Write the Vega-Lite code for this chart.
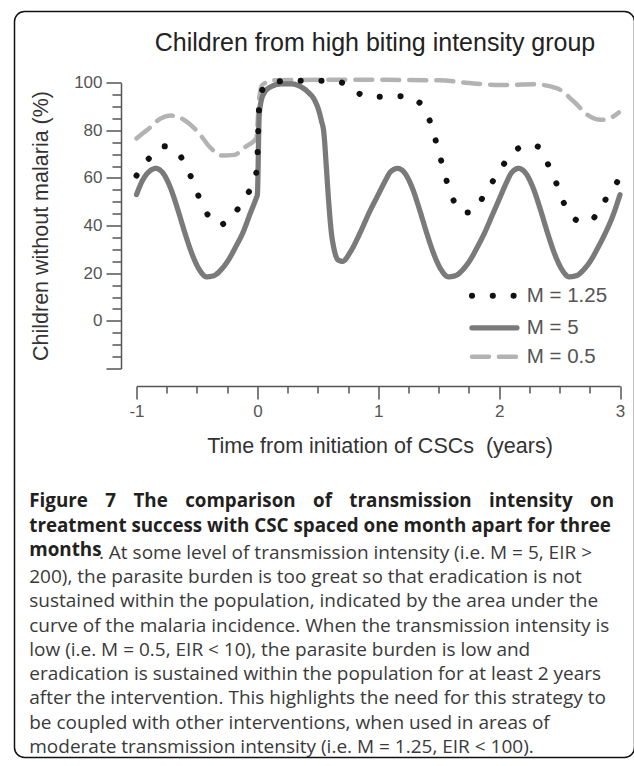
{
  "$schema": "https://vega.github.io/schema/vega-lite/v6.json",
  "background": "white",
  "padding": {"left": 13.5, "top": 10.5, "right": 0.5, "bottom": 9.5},
  "title": {
    "text": [
      "Figure\u2002\u2006 7\u2002\u2006 The\u2002\u2006 comparison\u2002\u2006 of\u2002\u2006 transmission\u2002\u2006 intensity\u2002\u2006 on",
      "treatment success with CSC spaced one month apart for three",
      "months"
    ],
    "subtitle": [
      "\u200b\u2003\u2003\u2003\u2002\u2006. At some level of transmission intensity (i.e. M = 5, EIR >",
      "200), the parasite burden is too great so that eradication is not",
      "sustained within the population, indicated by the area under the",
      "curve of the malaria incidence. When the transmission intensity is",
      "low (i.e. M = 0.5, EIR < 10), the parasite burden is low and",
      "eradication is sustained within the population for at least 2 years",
      "after the intervention. This highlights the need for this strategy to",
      "be coupled with other interventions, when used in areas of",
      "moderate transmission intensity (i.e. M = 1.25, EIR < 100)."
    ],
    "orient": "bottom",
    "anchor": "start",
    "frame": "bounds",
    "offset": -266,
    "dx": 15.5,
    "font": "Open Sans",
    "fontSize": 18.8,
    "fontWeight": "bold",
    "color": "#231f20",
    "lineHeight": 24.3,
    "subtitleFont": "Open Sans",
    "subtitleFontSize": 19,
    "subtitleFontWeight": "normal",
    "subtitleColor": "#3a3a3a",
    "subtitleLineHeight": 24.3,
    "subtitlePadding": -16
  },
  "vconcat": [
    {
      "width": 620,
      "height": 746,
      "view": {"stroke": "#111111", "strokeWidth": 1.5, "cornerRadius": 10, "fill": null},
      "title": {
        "text": "Children from high biting intensity group",
        "anchor": "middle",
        "frame": "group",
        "offset": -44,
        "dx": 50.5,
        "font": "Liberation Sans",
        "fontSize": 25,
        "fontWeight": "normal",
        "color": "#222222"
      },
      "data": {
        "values": [
          {"M": "M = 0.5", "t": -1.0, "pct": 76.6},
          {"M": "M = 0.5", "t": -0.91, "pct": 80.2},
          {"M": "M = 0.5", "t": -0.8, "pct": 85},
          {"M": "M = 0.5", "t": -0.716, "pct": 86.2},
          {"M": "M = 0.5", "t": -0.62, "pct": 84.8},
          {"M": "M = 0.5", "t": -0.495, "pct": 79.5},
          {"M": "M = 0.5", "t": -0.385, "pct": 72.5},
          {"M": "M = 0.5", "t": -0.29, "pct": 69.4},
          {"M": "M = 0.5", "t": -0.19, "pct": 69.7},
          {"M": "M = 0.5", "t": -0.095, "pct": 73.2},
          {"M": "M = 0.5", "t": -0.01, "pct": 76.6},
          {"M": "M = 0.5", "t": 0.015, "pct": 93.4},
          {"M": "M = 0.5", "t": 0.04, "pct": 99},
          {"M": "M = 0.5", "t": 0.14, "pct": 101},
          {"M": "M = 0.5", "t": 0.5, "pct": 101.2},
          {"M": "M = 0.5", "t": 1.0, "pct": 101.2},
          {"M": "M = 0.5", "t": 1.5, "pct": 101},
          {"M": "M = 0.5", "t": 1.79, "pct": 99.7},
          {"M": "M = 0.5", "t": 2.01, "pct": 99},
          {"M": "M = 0.5", "t": 2.29, "pct": 99.3},
          {"M": "M = 0.5", "t": 2.48, "pct": 97.6},
          {"M": "M = 0.5", "t": 2.62, "pct": 92},
          {"M": "M = 0.5", "t": 2.73, "pct": 86.5},
          {"M": "M = 0.5", "t": 2.84, "pct": 84.4},
          {"M": "M = 0.5", "t": 2.94, "pct": 85.7},
          {"M": "M = 0.5", "t": 2.99, "pct": 87.5},

          {"M": "M = 5", "t": -1.0, "pct": 53},
          {"M": "M = 5", "t": -0.95, "pct": 59},
          {"M": "M = 5", "t": -0.9, "pct": 62.5},
          {"M": "M = 5", "t": -0.84, "pct": 64},
          {"M": "M = 5", "t": -0.78, "pct": 62},
          {"M": "M = 5", "t": -0.72, "pct": 56},
          {"M": "M = 5", "t": -0.66, "pct": 47},
          {"M": "M = 5", "t": -0.6, "pct": 37},
          {"M": "M = 5", "t": -0.54, "pct": 28},
          {"M": "M = 5", "t": -0.48, "pct": 21.5},
          {"M": "M = 5", "t": -0.42, "pct": 18.5},
          {"M": "M = 5", "t": -0.36, "pct": 19},
          {"M": "M = 5", "t": -0.3, "pct": 21.5},
          {"M": "M = 5", "t": -0.24, "pct": 25.5},
          {"M": "M = 5", "t": -0.18, "pct": 31},
          {"M": "M = 5", "t": -0.12, "pct": 37},
          {"M": "M = 5", "t": -0.06, "pct": 45},
          {"M": "M = 5", "t": -0.01, "pct": 51.5},
          {"M": "M = 5", "t": 0.0, "pct": 53},
          {"M": "M = 5", "t": 0.015, "pct": 86},
          {"M": "M = 5", "t": 0.03, "pct": 92},
          {"M": "M = 5", "t": 0.06, "pct": 96},
          {"M": "M = 5", "t": 0.12, "pct": 98.5},
          {"M": "M = 5", "t": 0.2, "pct": 99.5},
          {"M": "M = 5", "t": 0.28, "pct": 99.5},
          {"M": "M = 5", "t": 0.36, "pct": 98.3},
          {"M": "M = 5", "t": 0.42, "pct": 96},
          {"M": "M = 5", "t": 0.47, "pct": 93},
          {"M": "M = 5", "t": 0.51, "pct": 88},
          {"M": "M = 5", "t": 0.53, "pct": 84},
          {"M": "M = 5", "t": 0.55, "pct": 79},
          {"M": "M = 5", "t": 0.57, "pct": 65},
          {"M": "M = 5", "t": 0.59, "pct": 50},
          {"M": "M = 5", "t": 0.61, "pct": 38},
          {"M": "M = 5", "t": 0.635, "pct": 30},
          {"M": "M = 5", "t": 0.67, "pct": 25.5},
          {"M": "M = 5", "t": 0.705, "pct": 25},
          {"M": "M = 5", "t": 0.77, "pct": 29},
          {"M": "M = 5", "t": 0.85, "pct": 37},
          {"M": "M = 5", "t": 0.93, "pct": 46},
          {"M": "M = 5", "t": 1.0, "pct": 53},
          {"M": "M = 5", "t": 1.06, "pct": 59},
          {"M": "M = 5", "t": 1.1, "pct": 62.5},
          {"M": "M = 5", "t": 1.16, "pct": 64},
          {"M": "M = 5", "t": 1.22, "pct": 62},
          {"M": "M = 5", "t": 1.28, "pct": 56},
          {"M": "M = 5", "t": 1.34, "pct": 47},
          {"M": "M = 5", "t": 1.4, "pct": 37},
          {"M": "M = 5", "t": 1.46, "pct": 28},
          {"M": "M = 5", "t": 1.52, "pct": 21.5},
          {"M": "M = 5", "t": 1.58, "pct": 18.5},
          {"M": "M = 5", "t": 1.64, "pct": 19},
          {"M": "M = 5", "t": 1.7, "pct": 21.5},
          {"M": "M = 5", "t": 1.76, "pct": 25.5},
          {"M": "M = 5", "t": 1.82, "pct": 31},
          {"M": "M = 5", "t": 1.88, "pct": 37},
          {"M": "M = 5", "t": 1.94, "pct": 44},
          {"M": "M = 5", "t": 2.0, "pct": 51},
          {"M": "M = 5", "t": 2.06, "pct": 58},
          {"M": "M = 5", "t": 2.1, "pct": 62},
          {"M": "M = 5", "t": 2.16, "pct": 64},
          {"M": "M = 5", "t": 2.22, "pct": 62},
          {"M": "M = 5", "t": 2.28, "pct": 56},
          {"M": "M = 5", "t": 2.34, "pct": 47},
          {"M": "M = 5", "t": 2.4, "pct": 37},
          {"M": "M = 5", "t": 2.46, "pct": 28},
          {"M": "M = 5", "t": 2.52, "pct": 21.5},
          {"M": "M = 5", "t": 2.58, "pct": 18.5},
          {"M": "M = 5", "t": 2.64, "pct": 19},
          {"M": "M = 5", "t": 2.7, "pct": 21.5},
          {"M": "M = 5", "t": 2.76, "pct": 25.5},
          {"M": "M = 5", "t": 2.82, "pct": 31},
          {"M": "M = 5", "t": 2.88, "pct": 37},
          {"M": "M = 5", "t": 2.94, "pct": 44},
          {"M": "M = 5", "t": 3.0, "pct": 53},

          {"M": "M = 1.25", "t": -1.0, "pct": 61},
          {"M": "M = 1.25", "t": -0.9, "pct": 68},
          {"M": "M = 1.25", "t": -0.77, "pct": 73.3},
          {"M": "M = 1.25", "t": -0.64, "pct": 69.3},
          {"M": "M = 1.25", "t": -0.56, "pct": 61.7},
          {"M": "M = 1.25", "t": -0.5, "pct": 54},
          {"M": "M = 1.25", "t": -0.43, "pct": 46.2},
          {"M": "M = 1.25", "t": -0.32, "pct": 40.2},
          {"M": "M = 1.25", "t": -0.19, "pct": 45},
          {"M": "M = 1.25", "t": -0.1, "pct": 52.2},
          {"M": "M = 1.25", "t": -0.02, "pct": 59.3},
          {"M": "M = 1.25", "t": 0.0, "pct": 68},
          {"M": "M = 1.25", "t": 0.005, "pct": 76.4},
          {"M": "M = 1.25", "t": 0.01, "pct": 84.8},
          {"M": "M = 1.25", "t": 0.02, "pct": 93.4},
          {"M": "M = 1.25", "t": 0.06, "pct": 98.5},
          {"M": "M = 1.25", "t": 0.11, "pct": 100},
          {"M": "M = 1.25", "t": 0.27, "pct": 100.8},
          {"M": "M = 1.25", "t": 0.44, "pct": 100.8},
          {"M": "M = 1.25", "t": 0.61, "pct": 100.8},
          {"M": "M = 1.25", "t": 0.77, "pct": 98.3},
          {"M": "M = 1.25", "t": 0.84, "pct": 95.5},
          {"M": "M = 1.25", "t": 0.91, "pct": 94.1},
          {"M": "M = 1.25", "t": 1.07, "pct": 94.1},
          {"M": "M = 1.25", "t": 1.24, "pct": 94.4},
          {"M": "M = 1.25", "t": 1.31, "pct": 92.8},
          {"M": "M = 1.25", "t": 1.375, "pct": 89.6},
          {"M": "M = 1.25", "t": 1.44, "pct": 82},
          {"M": "M = 1.25", "t": 1.485, "pct": 73.9},
          {"M": "M = 1.25", "t": 1.53, "pct": 65.5},
          {"M": "M = 1.25", "t": 1.574, "pct": 57.4},
          {"M": "M = 1.25", "t": 1.634, "pct": 49.4},
          {"M": "M = 1.25", "t": 1.7, "pct": 45.5},
          {"M": "M = 1.25", "t": 1.76, "pct": 45.5},
          {"M": "M = 1.25", "t": 1.87, "pct": 52.2},
          {"M": "M = 1.25", "t": 1.955, "pct": 59.2},
          {"M": "M = 1.25", "t": 2.05, "pct": 66.6},
          {"M": "M = 1.25", "t": 2.166, "pct": 72.7},
          {"M": "M = 1.25", "t": 2.25, "pct": 74},
          {"M": "M = 1.25", "t": 2.32, "pct": 73.2},
          {"M": "M = 1.25", "t": 2.4, "pct": 66.2},
          {"M": "M = 1.25", "t": 2.47, "pct": 58.2},
          {"M": "M = 1.25", "t": 2.53, "pct": 50.1},
          {"M": "M = 1.25", "t": 2.617, "pct": 43.1},
          {"M": "M = 1.25", "t": 2.69, "pct": 41.5},
          {"M": "M = 1.25", "t": 2.754, "pct": 42},
          {"M": "M = 1.25", "t": 2.856, "pct": 49},
          {"M": "M = 1.25", "t": 2.944, "pct": 56.1},
          {"M": "M = 1.25", "t": 2.98, "pct": 58.5}
        ]
      },
      "mark": {"type": "line", "interpolate": "monotone", "strokeCap": "round", "strokeJoin": "round"},
      "encoding": {
        "x": {
          "field": "t",
          "type": "quantitative",
          "scale": {"domain": [-1, 3], "range": [122, 605.5], "nice": false, "zero": false},
          "axis": {
            "orient": "bottom",
            "offset": -371.5,
            "values": [-1, -0.75, -0.5, -0.25, 0, 0.25, 0.5, 0.75, 1, 1.25, 1.5, 1.75, 2, 2.25, 2.5, 2.75, 3],
            "labelExpr": "datum.value % 1 === 0 ? '' + datum.value : ''",
            "grid": false,
            "domainColor": "#555555",
            "domainWidth": 1.5,
            "tickColor": "#555555",
            "tickWidth": 1.5,
            "tickSize": {"condition": {"test": "datum.value % 1 !== 0", "value": 7}, "value": 13},
            "labelPadding": 4.5,
            "labelFont": "Liberation Sans",
            "labelFontSize": 17,
            "labelColor": "#555555",
            "labelFlush": false,
            "labelOverlap": false,
            "title": "Time from initiation of CSCs\u00a0 (years)",
            "titleFont": "Liberation Sans",
            "titleFontSize": 21.5,
            "titleFontWeight": "normal",
            "titleColor": "#333333",
            "titleX": 365,
            "titleY": 60,
            "titleBaseline": "middle",
            "titleAlign": "center"
          }
        },
        "y": {
          "field": "pct",
          "type": "quantitative",
          "scale": {"domain": [-20, 100], "range": [357, 71.2], "nice": false, "zero": false},
          "axis": {
            "orient": "left",
            "offset": -106.5,
            "values": [-20, -15, -10, -5, 0, 5, 10, 15, 20, 25, 30, 35, 40, 45, 50, 55, 60, 65, 70, 75, 80, 85, 90, 95, 100],
            "labelExpr": "datum.value >= 0 && datum.value % 20 === 0 ? '' + datum.value : ''",
            "grid": false,
            "domainColor": "#555555",
            "domainWidth": 1.5,
            "tickColor": "#555555",
            "tickWidth": 1.5,
            "tickSize": {"condition": {"test": "datum.value % 20 !== 0", "value": 9}, "value": 15},
            "labelPadding": 4,
            "labelFont": "Liberation Sans",
            "labelFontSize": 17,
            "labelColor": "#555555",
            "labelFlush": false,
            "labelOverlap": false,
            "title": "Children without malaria (%)",
            "titleFont": "Liberation Sans",
            "titleFontSize": 21.5,
            "titleFontWeight": "normal",
            "titleColor": "#333333",
            "titleX": -80,
            "titleY": 214,
            "titleBaseline": "middle",
            "titleAlign": "center",
            "titleAngle": -90
          }
        },
        "color": {
          "field": "M",
          "type": "nominal",
          "scale": {"domain": ["M = 1.25", "M = 5", "M = 0.5"], "range": ["#111111", "#7a7a7a", "#b3b3b3"]},
          "legend": {
            "orient": "none",
            "legendX": 469.7,
            "legendY": 274,
            "title": null,
            "padding": 0,
            "symbolType": "M-4.5,0H4.5",
            "symbolSize": 100,
            "labelFont": "Liberation Sans",
            "labelFontSize": 20.5,
            "labelColor": "#555555",
            "labelOffset": 22,
            "rowPadding": 8,
            "encode": {
              "symbols": {
                "update": {
                  "strokeCap": {"value": "round"},
                  "stroke": {"signal": "datum.value === 'M = 0.5' ? '#6e6e6e' : datum.value === 'M = 5' ? '#7a7a7a' : '#111111'"}
                }
              }
            }
          }
        },
        "strokeDash": {
          "field": "M",
          "type": "nominal",
          "scale": {"domain": ["M = 1.25", "M = 5", "M = 0.5"], "range": [[0.1, 20.7], [1, 0], [17, 10]]},
          "legend": {
            "orient": "none",
            "legendX": 469.7,
            "legendY": 274,
            "title": null,
            "padding": 0,
            "symbolType": "M-4.5,0H4.5",
            "symbolSize": 100,
            "labelFont": "Liberation Sans",
            "labelFontSize": 20.5,
            "labelColor": "#555555",
            "labelOffset": 22,
            "rowPadding": 8
          }
        },
        "strokeWidth": {
          "field": "M",
          "type": "nominal",
          "scale": {"domain": ["M = 1.25", "M = 5", "M = 0.5"], "range": [6, 4.5, 6]},
          "legend": {
            "orient": "none",
            "legendX": 469.7,
            "legendY": 274,
            "title": null,
            "padding": 0,
            "symbolType": "M-4.5,0H4.5",
            "symbolSize": 100,
            "labelFont": "Liberation Sans",
            "labelFontSize": 20.5,
            "labelColor": "#555555",
            "labelOffset": 22,
            "rowPadding": 8
          }
        }
      }
    }
  ]
}
